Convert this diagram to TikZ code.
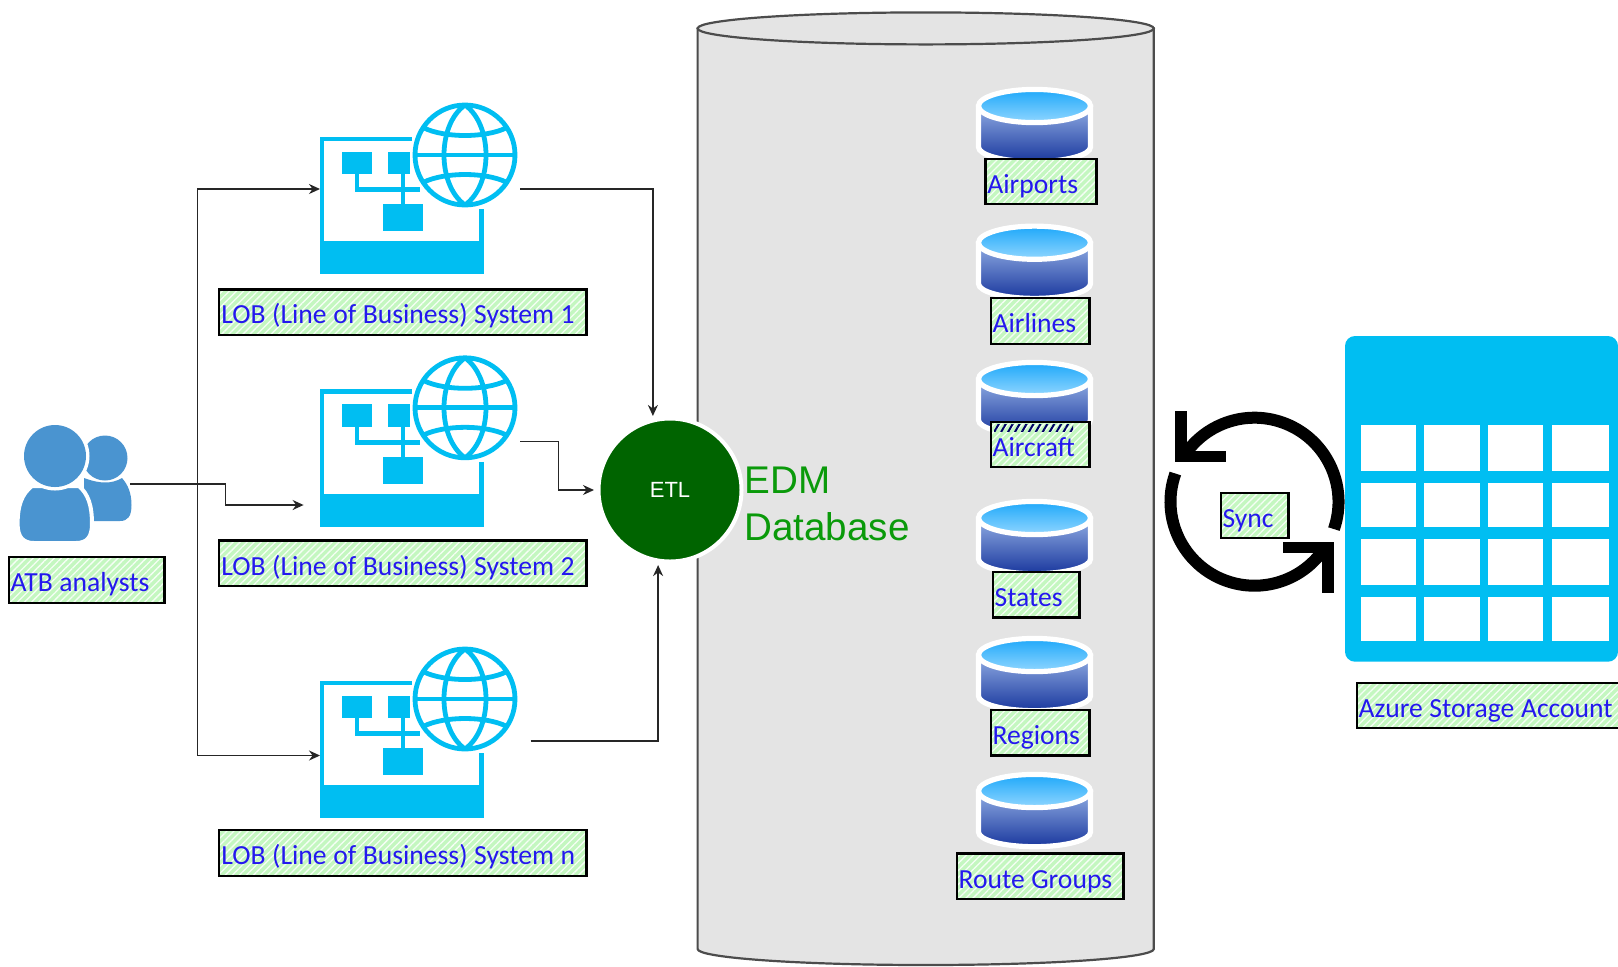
\documentclass[tikz,border=0pt]{standalone}
\usepackage{fontspec}
\setmainfont{Carlito}
\newfontfamily\arialf{Liberation Sans}
\usetikzlibrary{arrows.meta,patterns.meta,calc}
\definecolor{azure}{HTML}{00BEF2}
\definecolor{userblue}{HTML}{4A94D0}
\definecolor{labgreen}{HTML}{C4F7C0}
\definecolor{labblue}{HTML}{2418EE}
\definecolor{etlgreen}{HTML}{006400}
\definecolor{edmgreen}{HTML}{0A9A0A}
\definecolor{dbgrey}{HTML}{E4E4E4}
\definecolor{captop}{HTML}{1EA8FA}
\definecolor{capbot}{HTML}{90D6FF}
\definecolor{bodytop}{HTML}{8FABE2}
\definecolor{bodybot}{HTML}{1A389E}
\tikzset{
  conn/.style={draw=black!85,line width=0.7pt,-{Stealth[length=5.5pt,width=5pt]}},
  labelbox/.style={draw=black,line width=1.1pt,rectangle,inner xsep=1pt,inner ysep=0pt,
    preaction={fill=labgreen},pattern={Lines[angle=45,distance=2.5pt,line width=0.65pt]},pattern color=white!85!labgreen,
    text=labblue,font=\fontsize{13.8}{15}\selectfont,align=left},
  iconline/.style={draw=azure,line width=2.4pt},
  syncline/.style={draw=black,line width=6pt},
  px/.style={x=0.5pt,y=-0.5pt}
}
\newcommand{\lab}[6]{%
  \pgfmathsetlengthmacro\labw{(#4-#2)*0.5pt-2.6pt}%
  \pgfmathsetlengthmacro\labh{(#5-#3)*0.5pt}%
  \node[labelbox,text width=\labw,minimum height=\labh] (#1) at ({(#2+#4)/2},{(#3+#5)/2}) {\spaceskip=3.3pt\relax\smash{\raisebox{-5.9pt}{#6}}};}
\newcommand{\sysicon}[1]{%
  \begin{scope}[shift={(0,#1)}]
    \fill[azure] (320,241) rectangle (483.5,274);
    \draw[iconline] (412,139) -- (322,139) -- (322,245);
    \draw[iconline] (481.3,209) -- (481.3,245);
    \draw[iconline] (357,173) -- (357,189.5) -- (420,189.5);
    \draw[iconline] (403,173) -- (403,206);
    \fill[azure] (342,151.6) rectangle (372,173.7);
    \fill[azure] (388,151.6) rectangle (410,173.7);
    \fill[azure] (382.6,204) rectangle (423,231);
    \draw[iconline,fill=white] (465,155) circle[radius=50];
    \draw[iconline] (465,105) .. controls (437,125) and (437,185) .. (465,205);
    \draw[iconline] (465,105) .. controls (493,125) and (493,185) .. (465,205);
    \draw[iconline] (415,155) -- (515,155);
    \draw[iconline] (424,128) .. controls (445,138) and (485,138) .. (506,128);
    \draw[iconline] (424,182) .. controls (445,172) and (485,172) .. (506,182);
  \end{scope}}
\newcommand{\smallcyl}[1]{%
  \begin{scope}[shift={(0,#1)}]
    \draw[white,line width=2.6pt,top color=bodytop,bottom color=bodybot]
      (978.5,107) -- (978.5,147) arc[start angle=180,end angle=0,x radius=56,y radius=14.7] -- (1090.5,147) -- (1090.5,107) -- cycle;
    \draw[white,line width=2.6pt,top color=captop,bottom color=capbot]
      (1034.5,106) ellipse[x radius=56,y radius=16.6];
  \end{scope}}
\begin{document}
\begin{tikzpicture}[px]
\useasboundingbox (0,0) rectangle (1618,966);
\fill[white] (0,0) rectangle (1618,966);

% database
\draw[line width=1.1pt,draw=black!70,fill=dbgrey] (697.6,28.4) -- (697.6,949)
  arc[start angle=180,end angle=0,x radius=228.1,y radius=16] -- (1153.8,28.4) -- cycle;
\draw[line width=1.1pt,draw=black!70,fill=dbgrey] (925.7,28.4) ellipse[x radius=228.1,y radius=16];

% small cylinders
\smallcyl{0}\smallcyl{136.7}\smallcyl{273}\smallcyl{412}\smallcyl{549}\smallcyl{685}

% system icons
\sysicon{0}\sysicon{252.8}\sysicon{544}
\node[inner sep=0,outer sep=0,minimum width=100pt,minimum height=86pt] (sysA) at (420,189) {};
\node[inner sep=0,outer sep=0,minimum width=100pt,minimum height=86pt] (sysB) at (420,441.6) {};
\coordinate (sysBin) at (303.6,505);
\coordinate (sysCin) at (320,755.5);
\coordinate (sysCout) at (530.5,741);

% users
\fill[userblue] (105,458) circle[radius=22.5];
\fill[userblue] (84,478) -- (84,521) -- (120,521) .. controls (128,521) and (131.5,516) .. (131.5,505)
  .. controls (131.5,493) and (128,485) .. (122,478) .. controls (112,484) and (100,484) .. (84,478) -- cycle;
\draw[white,line width=2pt,fill=userblue] (32,486) .. controls (22,494) and (17.6,505) .. (17.6,524)
  .. controls (17.6,537) and (23,543) .. (34,543) -- (76,543) .. controls (87,543) and (92,537) .. (92,524)
  .. controls (92,505) and (88,494) .. (79,486) -- cycle;
\fill[white] (55,456) circle[radius=34.5];
\fill[userblue] (55,456) circle[radius=31];
\node[inner sep=0,outer sep=0,minimum width=55.2pt,minimum height=57.7pt] (users) at (75,484) {};

% ETL
\node[circle,draw=white,line width=2pt,fill=etlgreen,minimum size=71.5pt,inner sep=0,outer sep=2.25pt,
  text=white,font=\arialf\fontsize{11}{12}\selectfont] (etl) at (670,490) {ETL};

% connectors
\draw[conn] (users.east) -- ++(95.4,0) |- (sysBin);
\draw[conn] (users.east) -- ++(67,0) |- (sysA.west);
\draw[conn] (users.east) -- ++(67,0) |- (sysCin);
\draw[conn] (sysA.east) -| (etl.103);
\draw[conn] (sysB.east) -- ++(38.5,0) |- (etl.west);
\draw[conn] (sysCout) -| (etl.-99);

% labels
\lab{lobA}{218.7}{289.4}{587}{334.8}{LOB (Line of Business) System 1}
\lab{lobB}{218.7}{540.4}{587}{586.2}{LOB (Line of Business) System 2}
\lab{lobC}{218.7}{830}{587}{876}{LOB (Line of Business) System n}
\lab{atb}{8}{557}{165}{603}{ATB analysts}
\lab{airports}{984.8}{159}{1097}{204.3}{Airports}
\lab{airlines}{990}{298.3}{1090}{343.7}{Airlines}
\lab{aircraft}{990}{421.7}{1090}{467.3}{Aircraft}
\fill[pattern={Lines[angle=60,distance=3pt,line width=1pt]},pattern color=black!60!blue] (994,424) rectangle (1073,431);
\lab{states}{992}{572}{1080}{617.5}{States}
\lab{regions}{990}{710}{1090}{755.5}{Regions}
\lab{routes}{956}{853.5}{1124}{899}{Route Groups}

% EDM text
\node[anchor=north west,inner sep=0,text=edmgreen,align=left,font=\arialf\fontsize{19.3}{23.7}\selectfont] (edm) at (744,466.5) {EDM\\Database};

% sync icon
\coordinate (sc) at (1254.5,501.7);
\draw[syncline] (sc) ++(19:84) arc[start angle=19,end angle=-149,radius=84];
\draw[syncline] (sc) ++(199.6:84) arc[start angle=199.6,end angle=34,radius=84];
\fill (1175,410.7) rectangle (1186.7,461.7);
\fill (1175,450.7) rectangle (1226,461.7);
\fill (1322.3,541.7) rectangle (1334,592.7);
\fill (1282.7,541.7) rectangle (1334,553.3);
\lab{sync}{1220}{492.7}{1289}{538}{Sync}

% azure table
\fill[azure,rounded corners=5pt] (1345,336) rectangle (1618,661.7);
\foreach \xa/\xb in {1360.7/1416,1424.3/1480,1488/1543.3,1552/1609}{
  \foreach \ya/\yb in {425/471,483.3/526.7,539.3/585,597.3/641}{
    \fill[white] (\xa,\ya) rectangle (\xb,\yb);
  }}
\lab{azurel}{1356}{683.3}{1630}{728}{Azure Storage Account}
\end{tikzpicture}
\end{document}
